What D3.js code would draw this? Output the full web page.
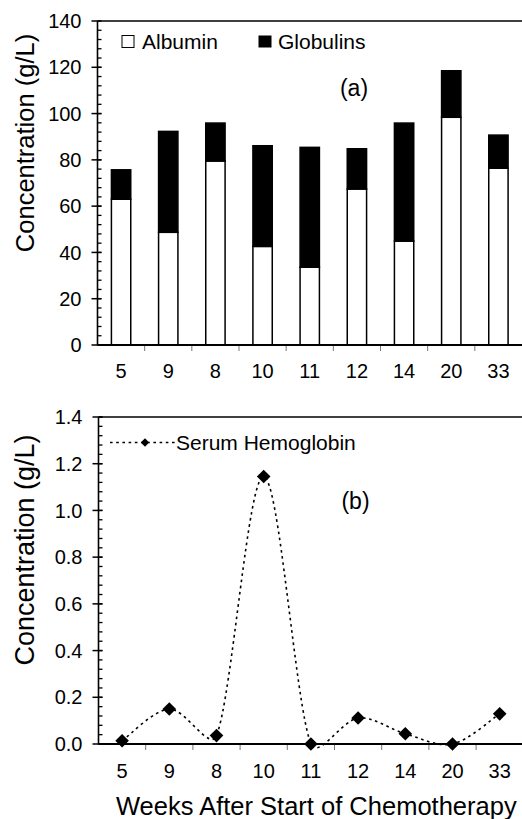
<!DOCTYPE html>
<html>
<head>
<meta charset="utf-8">
<script src="https://cdn.jsdelivr.net/npm/d3@7"></script>
<style>
  html, body { margin: 0; padding: 0; background: #fff; }
  svg { display: block; }
  text { font-family: "Liberation Sans", Arial, sans-serif; fill: #000; }
</style>
</head>
<body>
<svg id="chart" width="522" height="819"></svg>
<script>
// Weeks after start of chemotherapy (sampling order as plotted)
const weeks = ["5", "9", "8", "10", "11", "12", "14", "20", "33"];
// Panel (a): protein concentrations, g/L
const albumin   = [63.0, 48.7, 79.5, 42.6, 33.6, 67.4, 44.9, 98.4, 76.4];
const globulins = [12.7, 43.6, 16.4, 43.5, 51.8, 17.4, 51.0, 20.1, 14.3];
// Panel (b): serum hemoglobin, g/L
const hemoglobin = [0.014, 0.150, 0.036, 1.145, 0.000, 0.111, 0.044, 0.000, 0.129];

const topTicks = [0, 20, 40, 60, 80, 100, 120, 140];
const topMinor = d3.range(0, 140, 4);
const botTicks = [0, 0.2, 0.4, 0.6, 0.8, 1.0, 1.2, 1.4];
const botMinor = d3.range(0, 1.4001, 0.04);

const svg = d3.select("#chart");
const W = 522;
const TICK_FS = 20, LEGEND_FS = 21;

function yAxisPanel(g, x0, y, major, minor, fmt) {
  // minor ticks point inward
  g.selectAll("line.minor").data(minor).join("line")
    .attr("x1", x0).attr("x2", x0 + 4)
    .attr("y1", d => y(d)).attr("y2", d => y(d))
    .attr("stroke", "#000").attr("stroke-width", 1.3);
  // major ticks cross the axis
  g.selectAll("line.major").data(major).join("line")
    .attr("x1", x0 - 6).attr("x2", x0 + 4)
    .attr("y1", d => y(d)).attr("y2", d => y(d))
    .attr("stroke", "#000").attr("stroke-width", 1.5);
  g.selectAll("text.tick").data(major).join("text")
    .attr("class", "tick")
    .attr("x", x0 - 16).attr("y", d => y(d))
    .attr("dy", "0.36em")
    .attr("text-anchor", "end")
    .attr("font-size", TICK_FS)
    .text(fmt);
  g.append("line")
    .attr("x1", x0).attr("x2", x0)
    .attr("y1", y.range()[1]).attr("y2", y.range()[0])
    .attr("stroke", "#000").attr("stroke-width", 1.6);
}

function xAxisPanel(g, x, yPos, baseline) {
  const step = x.step();
  const bounds = d3.range(1, weeks.length).map(i => x.range()[0] + i * step);
  g.selectAll("line.xt").data(bounds).join("line")
    .attr("x1", d => d).attr("x2", d => d)
    .attr("y1", yPos).attr("y2", yPos + 5)
    .attr("stroke", "#777").attr("stroke-width", 1);
  g.selectAll("text.xl").data(weeks).join("text")
    .attr("x", d => x(d) + x.bandwidth() / 2)
    .attr("y", baseline)
    .attr("text-anchor", "middle")
    .attr("font-size", TICK_FS)
    .text(d => d);
}

// Smoothed line: cubic Bezier segments with Catmull-Rom tangents (1/6 rule),
// each control arm limited to a third of its own segment so short hops stay flat.
function smoothPath(p) {
  const path = d3.path();
  const n = p.length;
  const tan = p.map((_, i) => {
    const a = p[Math.max(0, i - 1)], b = p[Math.min(n - 1, i + 1)];
    return [(b[0] - a[0]) / 6, (b[1] - a[1]) / 6];
  });
  const clamp = (t, len) => {
    const m = Math.hypot(t[0], t[1]), lim = len / 3;
    return m > lim ? [t[0] * lim / m, t[1] * lim / m] : t;
  };
  path.moveTo(p[0][0], p[0][1]);
  for (let i = 0; i < n - 1; i++) {
    const len = Math.hypot(p[i + 1][0] - p[i][0], p[i + 1][1] - p[i][1]);
    const t0 = clamp(tan[i], len), t1 = clamp(tan[i + 1], len);
    path.bezierCurveTo(p[i][0] + t0[0], p[i][1] + t0[1],
                       p[i + 1][0] - t1[0], p[i + 1][1] - t1[1],
                       p[i + 1][0], p[i + 1][1]);
  }
  return path.toString();
}

// ---------- Panel (a): stacked bars ----------
const xa = d3.scaleBand().domain(weeks).range([97.5, 522]).padding(0);
const ya = d3.scaleLinear().domain([0, 140]).range([345, 21]);
const ga = svg.append("g");

const rows = weeks.map((w, i) => ({ week: w, albumin: albumin[i], globulins: globulins[i] }));
const stack = d3.stack().keys(["albumin", "globulins"])(rows);
const barW = xa.bandwidth() * 0.41;
const fills = { albumin: "#fff", globulins: "#000" };

ga.selectAll("g.layer").data(stack).join("g")
  .attr("fill", d => fills[d.key])
  .selectAll("rect").data(d => d).join("rect")
  .attr("x", d => xa(d.data.week) + (xa.bandwidth() - barW) / 2)
  .attr("width", barW)
  .attr("y", d => ya(d[1]))
  .attr("height", d => ya(d[0]) - ya(d[1]))
  .attr("stroke", "#000").attr("stroke-width", 1.5);

// frame top line
ga.append("line").attr("x1", 97.5).attr("x2", W).attr("y1", 21).attr("y2", 21)
  .attr("stroke", "#000").attr("stroke-width", 1.6);
yAxisPanel(ga, 97.5, ya, topTicks, topMinor, d => d);
ga.append("line").attr("x1", 97.5).attr("x2", W).attr("y1", 345).attr("y2", 345)
  .attr("stroke", "#000").attr("stroke-width", 2.2);
xAxisPanel(ga, xa, 346, 378);

// legend (a)
ga.append("rect").attr("x", 122).attr("y", 35.5).attr("width", 12).attr("height", 12)
  .attr("fill", "#fff").attr("stroke", "#000").attr("stroke-width", 1);
ga.append("text").attr("x", 142).attr("y", 48.5).attr("font-size", LEGEND_FS).text("Albumin");
ga.append("rect").attr("x", 258.5).attr("y", 35.5).attr("width", 13).attr("height", 12)
  .attr("fill", "#000");
ga.append("text").attr("x", 278).attr("y", 48.5).attr("font-size", LEGEND_FS).text("Globulins");
ga.append("text").attr("x", 354).attr("y", 96)
  .attr("text-anchor", "middle")
  .attr("font-family", "'Liberation Serif', 'Times New Roman', serif")
  .attr("font-size", 23).text("(a)");

ga.append("text")
  .attr("transform", "translate(34,143) rotate(-90)")
  .attr("text-anchor", "middle").attr("font-size", 25.5)
  .text("Concentration (g/L)");

// ---------- Panel (b): serum hemoglobin ----------
const xb = d3.scaleBand().domain(weeks).range([98.5, 523.3]).padding(0);
const yb = d3.scaleLinear().domain([0, 1.4]).range([744, 417]);
const gb = svg.append("g");

gb.append("line").attr("x1", 98.5).attr("x2", W).attr("y1", 417).attr("y2", 417)
  .attr("stroke", "#000").attr("stroke-width", 1.6);
yAxisPanel(gb, 98.5, yb, botTicks, botMinor, d3.format(".1f"));
gb.append("line").attr("x1", 98.5).attr("x2", W).attr("y1", 744).attr("y2", 744)
  .attr("stroke", "#000").attr("stroke-width", 2.2);
xAxisPanel(gb, xb, 745, 777.5);

const pts = weeks.map((w, i) => [xb(w) + xb.bandwidth() / 2, yb(hemoglobin[i])]);
const dash = "2.6,3.6";
gb.append("path").attr("d", smoothPath(pts))
  .attr("fill", "none").attr("stroke", "#000")
  .attr("stroke-width", 1.6).attr("stroke-dasharray", dash);

const diamond = r => `M0,${-r}L${r},0L0,${r}L${-r},0Z`;
gb.selectAll("path.pt").data(pts).join("path")
  .attr("d", diamond(6.8))
  .attr("transform", d => `translate(${d[0]},${d[1]})`)
  .attr("fill", "#000");

// legend (b)
gb.append("line").attr("x1", 110).attr("x2", 177).attr("y1", 442.5).attr("y2", 442.5)
  .attr("stroke", "#000").attr("stroke-width", 1.6).attr("stroke-dasharray", dash);
gb.append("path").attr("d", diamond(4.2)).attr("transform", "translate(145,442.5)").attr("fill", "#000");
gb.append("text").attr("x", 176).attr("y", 450).attr("font-size", LEGEND_FS).text("Serum Hemoglobin");
gb.append("text").attr("x", 355.5).attr("y", 509)
  .attr("text-anchor", "middle")
  .attr("font-family", "'Liberation Serif', 'Times New Roman', serif")
  .attr("font-size", 23).text("(b)");

gb.append("text")
  .attr("transform", "translate(34,550) rotate(-90)")
  .attr("text-anchor", "middle").attr("font-size", 27)
  .text("Concentration (g/L)");

svg.append("text").attr("x", 116).attr("y", 815)
  .attr("font-size", 25.5).text("Weeks After Start of Chemotherapy");
</script>
</body>
</html>
